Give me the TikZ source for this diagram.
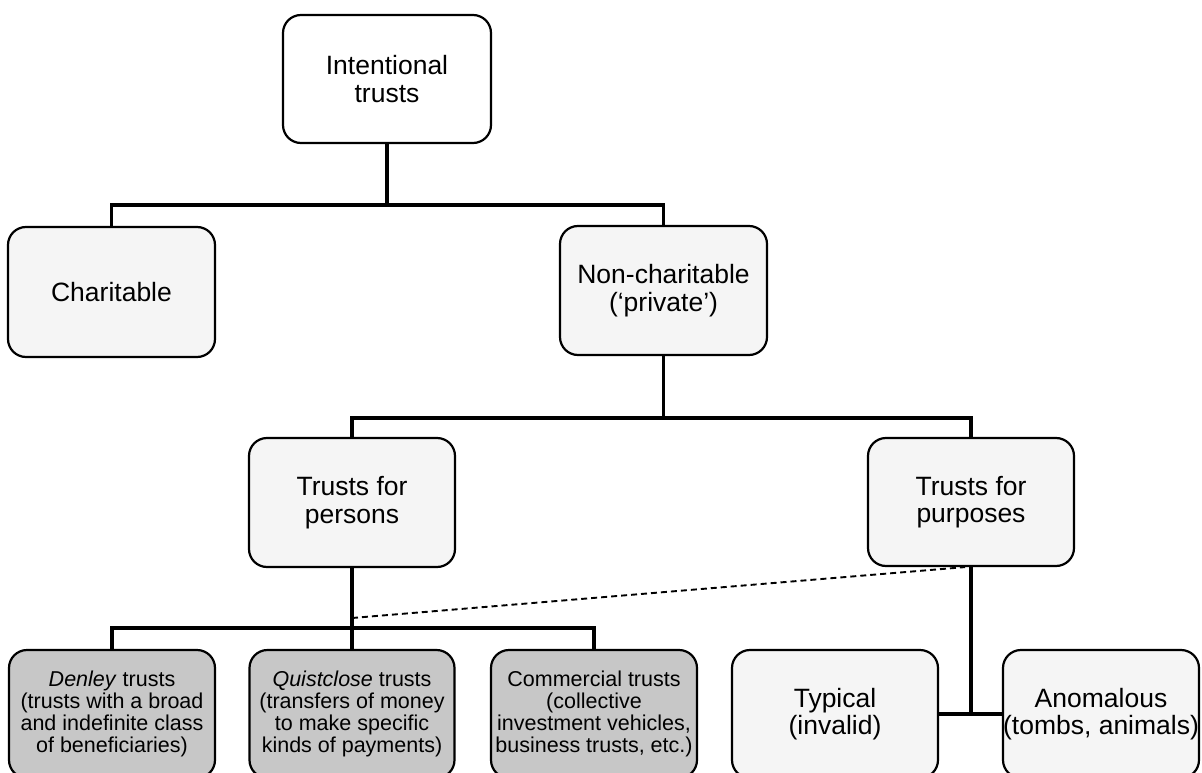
\documentclass[tikz,border=0pt]{standalone}
\usepackage{fontspec}
\setmainfont{Liberation Sans}
\begin{document}
\begin{tikzpicture}[x=1pt,y=-1pt,
  box/.style={draw=black, line width=2.2pt, rounded corners=18pt, align=center,
    inner xsep=0pt, inner ysep=2pt, minimum height=128pt, anchor=center,
    font=\fontsize{26.5}{27.5}\selectfont},
  lightbox/.style={box, fill=black!4},
  whitebox/.style={box, fill=white},
  greybox/.style={box, fill=black!22, minimum height=128pt,
    font=\fontsize{21.5}{22}\selectfont},
  conn/.style={line width=3.4pt},
  dashconn/.style={line width=1.9pt, dash pattern=on 6pt off 4pt}]
\useasboundingbox (0,0) rectangle (1202,773);
\fill[white] (0,0) rectangle (1202,773);
% nodes
\node[whitebox, minimum width=208pt] (top) at (387,79) {Intentional\\trusts};
\node[lightbox, minimum width=207pt, minimum height=130pt] (char) at (111.5,292) {Charitable};
\node[lightbox, minimum width=207pt, minimum height=129pt] (nonchar) at (663.5,290.5) {Non-charitable\\(‘private’)};
\node[lightbox, minimum width=206pt, minimum height=129pt] (persons) at (352,502.5) {Trusts for\\persons};
\node[lightbox, minimum width=206pt] (purposes) at (971,502) {Trusts for\\purposes};
\node[greybox, minimum width=206pt] (denley) at (112,714) {\textit{Denley} trusts\\(trusts with a broad\\and indefinite class\\of beneficiaries)};
\node[greybox, minimum width=205pt] (quist) at (352,714) {\textit{Quistclose} trusts\\(transfers of money\\to make specific\\kinds of payments)};
\node[greybox, minimum width=206pt] (comm) at (594,714) {Commercial trusts\\(collective\\investment vehicles,\\business trusts, etc.)};
\node[lightbox, minimum width=206pt] (typical) at (835,714) {Typical\\(invalid)};
\node[lightbox, minimum width=196pt] (anom) at (1101,714) {Anomalous\\(tombs, animals)};
% junctions
\coordinate (j1) at (387,205);
\coordinate (j2) at (663.5,418);
\coordinate (j3) at (352,628);
\coordinate (d1) at (352,618);
% connectors
\draw[conn] (top.south) -- (j1);
\draw[conn] (char.north) |- (j1) -| (nonchar.north);
\draw[conn] (nonchar.south) -- (j2);
\draw[conn] (persons.north) |- (j2) -| (purposes.north);
\draw[conn] (persons.south) -- (quist.north);
\draw[conn] (denley.north) |- (j3) -| (comm.north);
\draw[conn] (typical.east) -- (anom.west);
\draw[conn] (purposes.south) -- (purposes.south |- typical.east);
\draw[dashconn] (d1) -- ([xshift=-6pt]purposes.south);
\end{tikzpicture}
\end{document}
